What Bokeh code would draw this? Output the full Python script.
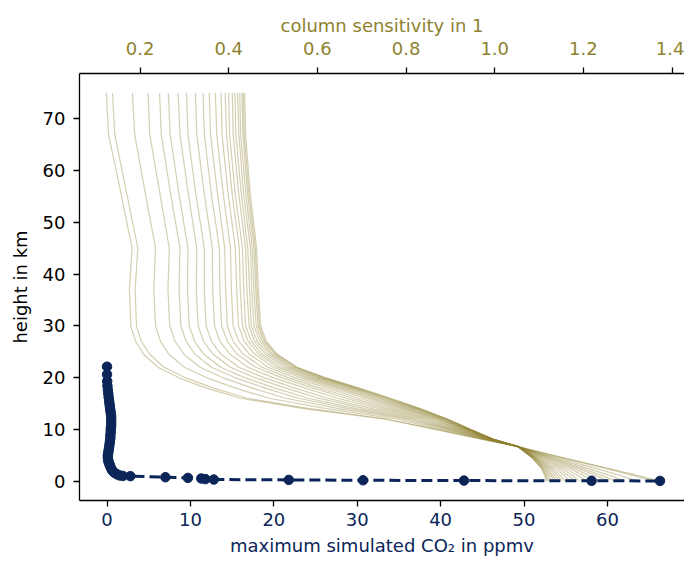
from bokeh.plotting import figure
from bokeh.models import Range1d, LinearAxis, FixedTicker
from bokeh.embed import file_html
from bokeh.resources import INLINE

# ---------------- data ----------------
levels_km = [75, 67, 56, 45, 37, 30, 27, 24.5, 22, 20, 18, 16, 14, 12, 10, 8, 6.7, 4.5, 2.5, 1, 0]

# column sensitivity: one row per height level, one column per ensemble member
sensitivity_rows = [
    [.124, .138, .183, .218, .244, .264, .286, .305, .325, .342, .356, .370, .383, .392, .400, .408, .414, .420, .425, .430, .433, .436],
    [.129, .143, .188, .222, .248, .268, .290, .308, .328, .345, .359, .373, .385, .395, .402, .410, .416, .423, .427, .432, .435, .438],
    [.156, .169, .211, .244, .268, .287, .308, .325, .344, .360, .374, .387, .398, .407, .414, .422, .428, .433, .438, .442, .445, .448],
    [.182, .195, .235, .266, .290, .308, .328, .345, .363, .379, .391, .404, .415, .424, .431, .438, .443, .449, .453, .457, .460, .463],
    [.176, .189, .231, .263, .288, .307, .327, .345, .364, .380, .393, .406, .418, .426, .434, .441, .447, .452, .457, .461, .464, .467],
    [.179, .192, .235, .267, .292, .311, .331, .349, .368, .384, .397, .410, .422, .431, .438, .446, .451, .457, .462, .466, .469, .472],
    [.190, .203, .246, .279, .304, .323, .343, .361, .380, .397, .410, .423, .435, .444, .451, .458, .464, .470, .475, .479, .482, .485],
    [.208, .222, .265, .299, .324, .344, .365, .383, .403, .419, .433, .447, .459, .468, .475, .483, .489, .495, .499, .504, .507, .510],
    [.240, .254, .300, .335, .361, .382, .404, .423, .443, .461, .475, .489, .501, .511, .519, .527, .533, .539, .544, .549, .552, .555],
    [.287, .302, .350, .386, .414, .436, .459, .479, .500, .519, .534, .548, .562, .572, .580, .588, .595, .601, .606, .611, .615, .618],
    [.348, .364, .414, .452, .481, .503, .527, .548, .571, .590, .605, .621, .634, .645, .653, .662, .669, .676, .681, .686, .690, .693],
    [.427, .442, .491, .528, .557, .579, .603, .623, .645, .664, .679, .694, .708, .718, .726, .735, .741, .748, .753, .758, .762, .765],
    [.570, .582, .620, .649, .671, .688, .707, .723, .740, .754, .766, .778, .788, .796, .803, .809, .815, .820, .824, .828, .830, .833],
    [.750, .756, .777, .793, .805, .815, .825, .834, .843, .851, .857, .864, .870, .874, .877, .881, .884, .887, .889, .891, .893, .894],
    [.865, .869, .880, .889, .896, .901, .907, .912, .917, .922, .925, .929, .932, .935, .937, .939, .940, .942, .943, .944, .945, .946],
    [.975, .976, .980, .983, .985, .986, .988, .990, .991, .993, .994, .995, .996, .997, .997, .998, .998, .999, .999, 1.000, 1.000, 1.000],
    [1.050, 1.050, 1.050, 1.050, 1.051, 1.051, 1.051, 1.051, 1.051, 1.051, 1.051, 1.052, 1.052, 1.052, 1.052, 1.052, 1.052, 1.052, 1.052, 1.052, 1.052, 1.052],
    [1.156, 1.153, 1.142, 1.134, 1.128, 1.124, 1.119, 1.114, 1.110, 1.106, 1.102, 1.099, 1.096, 1.094, 1.092, 1.090, 1.089, 1.088, 1.087, 1.085, 1.085, 1.084],
    [1.254, 1.247, 1.226, 1.209, 1.197, 1.187, 1.177, 1.168, 1.158, 1.150, 1.143, 1.136, 1.130, 1.126, 1.122, 1.118, 1.115, 1.112, 1.110, 1.108, 1.106, 1.105],
    [1.326, 1.316, 1.286, 1.262, 1.244, 1.230, 1.215, 1.202, 1.189, 1.177, 1.167, 1.158, 1.149, 1.143, 1.137, 1.132, 1.128, 1.124, 1.120, 1.117, 1.115, 1.113],
    [1.370, 1.359, 1.322, 1.293, 1.272, 1.255, 1.237, 1.222, 1.206, 1.191, 1.180, 1.169, 1.158, 1.151, 1.144, 1.138, 1.133, 1.128, 1.124, 1.120, 1.118, 1.115],
]

# maximum simulated CO2 profile
co2_height_km = [22.1, 20.6, 19.3, 18.4, 17.6, 16.9, 16.2, 15.5, 14.9, 14.3,
                 13.7, 13.1, 12.5, 11.9, 11.3, 10.7, 10.1, 9.5, 8.9, 8.3,
                 7.7, 7.1, 6.5, 6.0, 5.5, 5.0, 4.5, 4.0, 3.6, 3.2,
                 2.8, 2.4, 2.1, 1.8, 1.55, 1.3, 1.1, 1.0, 0.95, 0.74,
                 0.62, 0.5, 0.38, 0.3, 0.23, 0.16, 0.1, 0.06, 0.03]
co2_max_ppmv = [0.0, 0.0, 0.02, 0.05, 0.1, 0.15, 0.2, 0.25, 0.3, 0.35,
                0.4, 0.45, 0.5, 0.5, 0.5, 0.5, 0.45, 0.45, 0.4, 0.4,
                0.35, 0.3, 0.25, 0.2, 0.15, 0.1, 0.1, 0.15, 0.2, 0.3,
                0.4, 0.5, 0.6, 0.75, 0.95, 1.2, 1.5, 1.9, 2.8, 7.0,
                9.7, 11.3, 11.8, 12.8, 21.8, 30.7, 42.8, 58.1, 66.3]

x_ticks = [0, 10, 20, 30, 40, 50, 60]
top_ticks = [0.2, 0.4, 0.6, 0.8, 1.0, 1.2, 1.4]
top_tick_labels = ["0.2", "0.4", "0.6", "0.8", "1.0", "1.2", "1.4"]
y_ticks = [0, 10, 20, 30, 40, 50, 60, 70]

# ---------------- styling ----------------
NAVY = "#0b2559"
OLIVE = "#8e8230"
FONT = "DejaVu Sans"
FS = "18px"

p = figure(width=684, height=561,
           x_range=Range1d(-3.3, 69.24), y_range=Range1d(-3.75, 78.75),
           output_backend="svg", toolbar_location=None,
           min_border_left=79, min_border_right=0,
           min_border_top=73, min_border_bottom=61)
p.extra_x_ranges = {"sens": Range1d(0.0635, 1.428)}
p.grid.visible = False
p.outline_line_color = None
p.background_fill_color = "white"
p.border_fill_color = "white"


def style_axis(ax, color, tick_standoff, label_standoff):
    ax.axis_line_color = "black"
    ax.axis_line_width = 1.3
    ax.major_tick_line_color = "black"
    ax.major_tick_line_width = 1.3
    ax.major_tick_out = 6
    ax.major_tick_in = 0
    ax.minor_tick_line_color = None
    ax.major_label_text_font = FONT
    ax.major_label_text_font_size = FS
    ax.major_label_text_color = color
    ax.axis_label_text_font = FONT
    ax.axis_label_text_font_size = FS
    ax.axis_label_text_font_style = "normal"
    ax.axis_label_text_color = color
    ax.major_label_standoff = tick_standoff
    ax.axis_label_standoff = label_standoff


xa = p.xaxis[0]
xa.ticker = FixedTicker(ticks=x_ticks)
xa.axis_label = "maximum simulated CO\u2082 in ppmv"
style_axis(xa, NAVY, 6, 6)

ya = p.yaxis[0]
ya.ticker = FixedTicker(ticks=y_ticks)
ya.axis_label = "height in km"
style_axis(ya, "black", 8, 9)

top = LinearAxis(x_range_name="sens", axis_label="column sensitivity in 1",
                 ticker=FixedTicker(ticks=top_ticks))
top.major_label_overrides = {t: lab for t, lab in zip(top_ticks, top_tick_labels)}
style_axis(top, OLIVE, 13, 3)
p.add_layout(top, "above")

members = [list(col) for col in zip(*sensitivity_rows)]
for prof in members:
    p.line(prof, levels_km, x_range_name="sens", line_color=OLIVE,
           line_alpha=0.38, line_width=1.2)

p.line(co2_max_ppmv, co2_height_km, line_color=NAVY, line_width=3, line_dash="11 5")
p.scatter(co2_max_ppmv, co2_height_km, size=9.5, fill_color=NAVY, line_color=NAVY)

open("out.html", "w").write(file_html(p, INLINE))
